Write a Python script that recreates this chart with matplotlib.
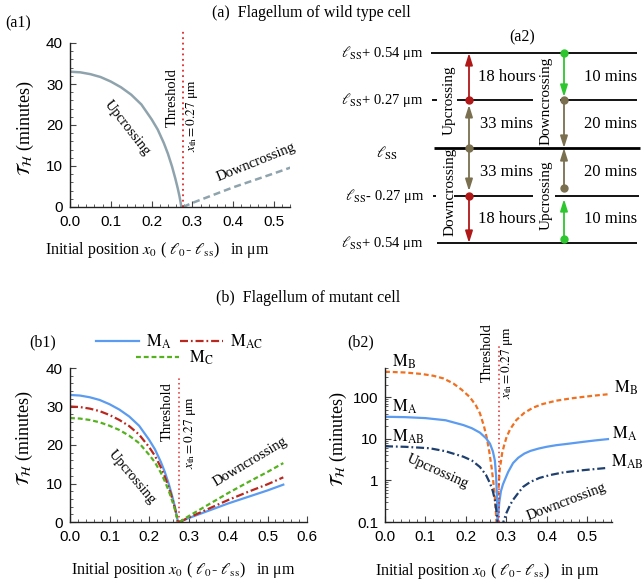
import matplotlib
matplotlib.use('Agg')
import matplotlib.pyplot as plt
from matplotlib.ticker import MultipleLocator, FixedLocator, LogLocator, NullFormatter

plt.rcParams['font.family'] = ['Liberation Serif', 'DejaVu Serif']
plt.rcParams['mathtext.fontset'] = 'stix'

# threshold position as drawn
x_th = 0.277

# ---- (a1) wild type ----
x_up = [0, 0.025, 0.05, 0.075, 0.1, 0.125, 0.15, 0.175, 0.2, 0.215, 0.23, 0.24, 0.25,
        0.258, 0.264, 0.268, 0.271, 0.273]
wt_up = [33.0, 32.85, 32.4, 31.7, 30.6, 29.2, 27.4, 25.0, 21.4, 18.9, 15.6, 13.0, 9.9,
         7.0, 4.6, 2.8, 1.2, 0.0]
x_dn = [0.277, 0.3, 0.35, 0.4, 0.45, 0.5, 0.54]
wt_dn = [0.0, 1.0, 2.9, 4.8, 6.5, 8.2, 9.6]

# ---- (a2) schematic ----
levels = [0.54, 0.27, 0.0, -0.27, -0.54]
level_labels = [r'$\ell_{\rm SS}$+ 0.54 μm', r'$\ell_{\rm SS}$+ 0.27 μm', r'$\ell_{\rm SS}$',
                r'$\ell_{\rm SS}$- 0.27 μm', r'$\ell_{\rm SS}$+ 0.54 μm']
left_times = ['18 hours', '33 mins', '33 mins', '18 hours']
right_times = ['10 mins', '20 mins', '20 mins', '10 mins']

# ---- (b1) mutants, linear ----
ma_up = [33.0, 32.85, 32.4, 31.7, 30.6, 29.2, 27.4, 25.0, 21.4, 18.9, 15.6, 13.0, 9.9,
         7.0, 4.6, 2.8, 1.2, 0.0]
mac_up = [30.0, 29.86, 29.45, 28.8, 27.8, 26.5, 24.9, 22.7, 19.5, 17.2, 14.2, 11.8, 9.0,
          6.4, 4.2, 2.5, 1.1, 0.0]
mc_up = [27.0, 26.87, 26.5, 25.9, 25.0, 23.9, 22.4, 20.5, 17.5, 15.5, 12.8, 10.6, 8.1,
         5.7, 3.8, 2.3, 1.0, 0.0]
ma_dn = [0.0, 1.0, 2.9, 4.8, 6.5, 8.2, 9.7]
mac_dn = [0.0, 1.1, 3.4, 5.7, 7.8, 9.8, 11.6]
mc_dn = [0.0, 1.5, 4.5, 7.5, 10.3, 13.0, 15.3]

# ---- (b2) mutants, log ----
xb_up_b = [0, 0.05, 0.09, 0.12, 0.145, 0.169, 0.19, 0.21, 0.225, 0.235, 0.245, 0.252,
           0.258, 0.264, 0.268, 0.272, 0.276, 0.278]
mb_up = [407, 390, 360, 325, 280, 213, 150, 100, 63, 41, 20, 10.5, 5.0, 2.0, 0.95, 0.38, 0.1, 0.04]
xb_dn_b = [0.278, 0.28, 0.282, 0.284, 0.29, 0.295, 0.301, 0.31, 0.325, 0.345, 0.367, 0.39,
           0.424, 0.46, 0.49, 0.52, 0.552]
mb_dn = [0.05, 0.3, 0.9, 1.8, 4.5, 7.0, 11, 17, 28, 42, 56, 68, 82, 93, 101, 109, 117]

xb_up_a = [0, 0.05, 0.1, 0.15, 0.194, 0.215, 0.235, 0.25, 0.26, 0.267, 0.272, 0.275, 0.277, 0.279]
ma_up_log = [33.7, 33.0, 31.3, 27.8, 21.3, 17.9, 14.0, 10.3, 7.6, 5.0, 3.0, 1.3, 0.45, 0.1]
xb_dn_a = [0.278, 0.28, 0.283, 0.287, 0.292, 0.297, 0.305, 0.317, 0.33, 0.345, 0.36, 0.38, 0.4,
           0.424, 0.45, 0.49, 0.52, 0.552]
ma_dn_log = [0.03, 0.13, 0.3, 0.55, 0.8, 1.05, 1.6, 2.6, 3.5, 4.4, 5.1, 5.8, 6.4,
             7.0, 7.5, 8.4, 9.1, 9.8]

xb_up_ab = [0, 0.05, 0.111, 0.15, 0.194, 0.215, 0.235, 0.25, 0.26, 0.267, 0.272, 0.276, 0.279]
mab_up = [6.6, 6.4, 5.9, 5.0, 3.7, 3.0, 2.1, 1.35, 0.85, 0.55, 0.34, 0.18, 0.09]
xb_dn_ab = [0.285, 0.293, 0.3, 0.31, 0.317, 0.33, 0.342, 0.36, 0.383, 0.41, 0.441, 0.47, 0.507, 0.552]
mab_dn = [0.03, 0.1, 0.16, 0.26, 0.34, 0.5, 0.7, 0.92, 1.15, 1.35, 1.55, 1.68, 1.82, 2.0]

c_wt = '#8fa3ad'
c_a = '#5b9bf0'
c_ac = '#b8281e'
c_c = '#55b21e'
c_b = '#f07020'
c_ab = '#1f3f6f'
c_th = '#e02828'

dash_c = (2.2, 1.3)
dash_dot = (3.6, 1.3, 0.8, 1.3)

fig = plt.figure(figsize=(6.44, 5.87), dpi=100)
W, H = 644.0, 587.0


def px_axes(x0, y0, x1, y1):
    # pixel box (left, top, right, bottom) -> figure axes
    return fig.add_axes([x0 / W, 1 - y1 / H, (x1 - x0) / W, (y1 - y0) / H])


def style(ax):
    for s in ['top', 'right']:
        ax.spines[s].set_visible(False)
    for s in ['left', 'bottom']:
        ax.spines[s].set_color('#222222')
        ax.spines[s].set_linewidth(1.0)
    ax.tick_params(which='both', direction='in', labelsize=11, color='#444444')
    ax.tick_params(axis='x', pad=6)
    ax.tick_params(axis='y', pad=5)
    ax.tick_params(which='major', length=4)
    ax.tick_params(which='minor', length=2)


def sans_ticks(ax, xt, xl, yt=None, yl=None):
    ax.set_xticks(xt)
    ax.set_xticklabels(xl, family='Liberation Sans', fontsize=11)
    if yt is not None:
        ax.set_yticks(yt)
        ax.set_yticklabels(yl, family='Liberation Sans', fontsize=11)


xlab = r'Initial position $x_0$ ( $\ell_0$- $\ell_{\rm ss}$)   in μm'
ylab = r'$\mathcal{T}_{\mathcal{H}}$ (minutes)'
xth_lab = r'$x_{\rm th} = 0.27$ μm'

# ===== (a1) =====
ax1 = px_axes(70, 43, 290.3, 207)
ax1.plot(x_up, wt_up, color=c_wt, lw=1.8)
ax1.plot(x_dn, wt_dn, color=c_wt, lw=1.8, dashes=(2.8, 1.6))
ax1.plot([x_th, x_th], [0, 43.5], color=c_th, lw=1.3, ls=(0, (1, 2)), clip_on=False)
ax1.set_xlim(0, 0.54)
ax1.set_ylim(0, 40)
ax1.xaxis.set_minor_locator(MultipleLocator(0.02))
ax1.yaxis.set_minor_locator(MultipleLocator(2))
style(ax1)
sans_ticks(ax1, [0, 0.1, 0.2, 0.3, 0.4, 0.5], ['0.0', '0.1', '0.2', '0.3', '0.4', '0.5'],
           [0, 10, 20, 30, 40], ['0', '10', '20', '30', '40'])
ax1.set_xlabel(xlab, fontsize=11.5)
ax1.xaxis.set_label_coords(0.395, -0.20)
ax1.set_ylabel(ylab, fontsize=13)
ax1.yaxis.set_label_coords(-0.155, 0.48)
ax1.text(0.25, 26.8, 'Threshold', rotation=90, ha='center', va='center', fontsize=10.5)
ax1.text(0.299, 22.4, xth_lab, rotation=90, ha='center', va='center', fontsize=9.5)
ax1.text(0.14, 19.3, 'Upcrossing', rotation=-52, ha='center', va='center', fontsize=10.5)
ax1.text(0.455, 11.0, 'Downcrossing', rotation=22, ha='center', va='center', fontsize=10.5)

# ===== (a2) schematic =====
ax2 = px_axes(322, 30, 644, 260)
ax2.set_xlim(322, 644)
ax2.set_ylim(-0.6366, 0.6707)
ax2.axis('off')
segs = {0.54: [(431, 637)], 0.27: [(432, 437), (457, 533), (560, 637)],
        0.0: [(434, 640)], -0.27: [(433, 436), (454, 533), (555, 639)],
        -0.54: [(437, 637)]}
for lev, lab in zip(levels, level_labels):
    for a, b in segs[lev]:
        ax2.plot([a, b], [lev, lev], color='black', lw=2.0 if lev == 0 else 1.3,
                 solid_capstyle='butt')
    if lev == 0:
        ax2.text(387, lev - 0.03, lab, ha='center', va='center', fontsize=11)
    else:
        ax2.text(424, lev, lab, ha='right', va='center', fontsize=10.5)

xl, xr = 469, 564
c_red, c_olive, c_green = '#b01818', '#7a7050', '#2ec62e'


def arrow(x, y0, y1, c):
    ax2.annotate('', xy=(x, y1), xytext=(x, y0),
                 arrowprops=dict(arrowstyle='-|>,head_length=0.7,head_width=0.22', color=c,
                                 lw=1.3, shrinkA=0, shrinkB=0, mutation_scale=10))


arrow(xl, levels[1], levels[0], c_red)
arrow(xl, levels[2], 0.245, c_olive)
arrow(xl, levels[2], -0.245, c_olive)
arrow(xl, levels[3], levels[4], c_red)
ax2.plot([xl, xl], [0.27, -0.27], ls='none', marker='o', ms=5, color=c_red)
ax2.plot([xl], [0.0], ls='none', marker='o', ms=5, color=c_olive)

arrow(xr, levels[0], 0.29, c_green)
arrow(xr, levels[1], 0.0, c_olive)
arrow(xr, -0.23, 0.0, c_olive)
arrow(xr, -0.515, -0.29, c_green)
ax2.plot([xr, xr], [0.54, -0.515], ls='none', marker='o', ms=5, color=c_green)
ax2.plot([xr, xr], [0.27, -0.23], ls='none', marker='o', ms=5, color=c_olive)

mids = [0.405, 0.135, -0.135, -0.405]
for m, lt, rt in zip(mids, left_times, right_times):
    ax2.text(507, m, lt, ha='center', va='center', fontsize=12)
    ax2.text(611, m, rt, ha='center', va='center', fontsize=12)
ax2.text(449, 0.27, 'Upcrossing', rotation=90, ha='center', va='center', fontsize=11)
ax2.text(450, -0.25, 'Downcrossing', rotation=90, ha='center', va='center', fontsize=11)
ax2.text(546, 0.27, 'Downcrossing', rotation=90, ha='center', va='center', fontsize=11)
ax2.text(546, -0.27, 'Upcrossing', rotation=90, ha='center', va='center', fontsize=11)
ax2.text(522, 0.63, '(a2)', ha='center', va='center', fontsize=11.5)

# ===== (b1) =====
ax3 = px_axes(70, 368, 307, 522)
l_a, = ax3.plot(x_up, ma_up, color=c_a, lw=1.6, label=r'$\mathrm{M_A}$')
ax3.plot(x_dn, ma_dn, color=c_a, lw=1.6)
l_ac, = ax3.plot(x_up, mac_up, color=c_ac, lw=1.6, dashes=dash_dot, label=r'$\mathrm{M_{AC}}$')
ax3.plot(x_dn, mac_dn, color=c_ac, lw=1.6, dashes=dash_dot)
l_c, = ax3.plot(x_up, mc_up, color=c_c, lw=1.6, dashes=dash_c, label=r'$\mathrm{M_C}$')
ax3.plot(x_dn, mc_dn, color=c_c, lw=1.6, dashes=dash_c)
ax3.plot([x_th, x_th], [0, 38], color=c_th, lw=1.1, ls=(0, (1, 2)))
ax3.set_xlim(0, 0.6)
ax3.set_ylim(0, 40)
ax3.xaxis.set_minor_locator(MultipleLocator(0.02))
ax3.yaxis.set_minor_locator(MultipleLocator(2))
style(ax3)
sans_ticks(ax3, [0, 0.1, 0.2, 0.3, 0.4, 0.5, 0.6], ['0.0', '0.1', '0.2', '0.3', '0.4', '0.5', '0.6'],
           [0, 10, 20, 30, 40], ['0', '10', '20', '30', '40'])
ax3.set_xlabel(xlab, fontsize=11.5)
ax3.xaxis.set_label_coords(0.48, -0.245)
ax3.set_ylabel(ylab, fontsize=13)
ax3.yaxis.set_label_coords(-0.148, 0.545)
ax3.text(0.246, 28.6, 'Threshold', rotation=90, ha='center', va='center', fontsize=10.5)
ax3.text(0.304, 23.1, xth_lab, rotation=90, ha='center', va='center', fontsize=9.5)
ax3.text(0.157, 11.7, 'Upcrossing', rotation=-50, ha='center', va='center', fontsize=10.5)
ax3.text(0.456, 15.6, 'Downcrossing', rotation=31, ha='center', va='center', fontsize=10.5)
leg1 = ax3.legend(handles=[l_a, l_ac], ncol=2, loc='center left', frameon=False,
                  bbox_to_anchor=(96 / W, 1 - 342 / H), bbox_transform=fig.transFigure,
                  borderpad=0, borderaxespad=0, handlelength=2.6, handletextpad=0.4,
                  columnspacing=0.5, fontsize=12)
ax3.add_artist(leg1)
ax3.legend(handles=[l_c], loc='center left', frameon=False,
           bbox_to_anchor=(136 / W, 1 - 358 / H), bbox_transform=fig.transFigure,
           borderpad=0, borderaxespad=0, handlelength=2.6, handletextpad=0.6, fontsize=12)

# ===== (b2) =====
ax4 = px_axes(385, 368, 612, 522)
ax4.set_yscale('log')
ax4.plot(xb_up_b, mb_up, color=c_b, lw=1.6, dashes=dash_c)
ax4.plot(xb_dn_b, mb_dn, color=c_b, lw=1.6, dashes=dash_c)
ax4.plot(xb_up_a, ma_up_log, color=c_a, lw=1.6)
ax4.plot(xb_dn_a, ma_dn_log, color=c_a, lw=1.6)
ax4.plot(xb_up_ab, mab_up, color=c_ab, lw=1.6, dashes=dash_dot)
ax4.plot(xb_dn_ab, mab_dn, color=c_ab, lw=1.6, dashes=dash_dot)
ax4.plot([x_th + 0.005, x_th + 0.005], [0.1, 1900], color=c_th, lw=1.1, ls=(0, (1, 2)), clip_on=False)
ax4.set_xlim(0, 0.562)
ax4.set_ylim(0.1, 500)
ax4.xaxis.set_minor_locator(MultipleLocator(0.02))
ax4.yaxis.set_major_locator(FixedLocator([0.1, 1, 10, 100]))
ax4.yaxis.set_minor_locator(LogLocator(base=10, subs=range(2, 10)))
ax4.yaxis.set_minor_formatter(NullFormatter())
style(ax4)
sans_ticks(ax4, [0, 0.1, 0.2, 0.3, 0.4, 0.5], ['0.0', '0.1', '0.2', '0.3', '0.4', '0.5'],
           [0.1, 1, 10, 100], ['0.1', '1', '10', '100'])
ax4.set_xlabel(xlab, fontsize=11.5)
ax4.xaxis.set_label_coords(0.449, -0.255)
ax4.set_ylabel(ylab, fontsize=13)
ax4.yaxis.set_label_coords(-0.159, 0.54)
ax4.text(0.252, 1150, 'Threshold', rotation=90, ha='center', va='center', fontsize=10.5)
ax4.text(0.302, 690, xth_lab, rotation=90, ha='center', va='center', fontsize=9.5)
ax4.text(0.13, 1.6, 'Upcrossing', rotation=-24, ha='center', va='center', fontsize=10.5)
ax4.text(0.45, 0.31, 'Downcrossing', rotation=21, ha='center', va='center', fontsize=10.5)
for x, y, t in [(0.017, 690, r'$\mathrm{M_B}$'), (0.017, 57, r'$\mathrm{M_A}$'),
                (0.017, 11, r'$\mathrm{M_{AB}}$'), (0.566, 165, r'$\mathrm{M_B}$'),
                (0.561, 13, r'$\mathrm{M_A}$'), (0.559, 2.75, r'$\mathrm{M_{AB}}$')]:
    ax4.text(x, y, t, ha='left', va='center', fontsize=12)

# panel labels and titles
fig.text(5 / W, 1 - 23 / H, '(a1)', ha='left', va='center', fontsize=11.5)
fig.text(29 / W, 1 - 342 / H, '(b1)', ha='left', va='center', fontsize=11.5)
fig.text(347 / W, 1 - 342 / H, '(b2)', ha='left', va='center', fontsize=11.5)
fig.text(311 / W, 1 - 13 / H, '(a)  Flagellum of wild type cell', ha='center', va='center', fontsize=11.5)
fig.text(308 / W, 1 - 298 / H, '(b)  Flagellum of mutant cell', ha='center', va='center', fontsize=11.5)

fig.savefig('out.png', dpi=100)
